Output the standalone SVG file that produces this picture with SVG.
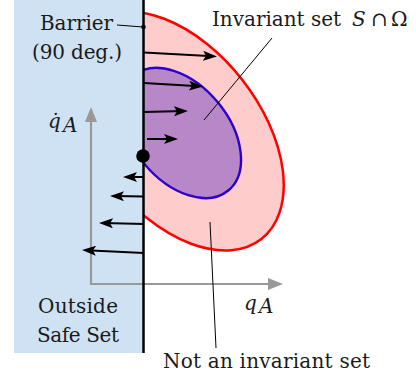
<svg xmlns="http://www.w3.org/2000/svg" width="416" height="380" viewBox="0 0 416 380">
<style>
  text { font-family: 'DejaVu Serif', 'Liberation Serif', serif; font-size: 20px; fill: #1a1a1a; }
  .m { font-style: italic; }
  .arr { stroke: #000; stroke-width: 2; fill: none; marker-end: url(#ah); }
  .lead { stroke: #000; stroke-width: 1; fill: none; }
  .axis { stroke: #999; stroke-width: 2.2; fill: none; }
</style>
<defs>
  <marker id="ah" viewBox="0 0 14 10" refX="10" refY="5" markerWidth="14" markerHeight="10" markerUnits="userSpaceOnUse" orient="auto">
    <path d="M0,0 L14,5 L0,10 L3,5 Z" fill="#000"/>
  </marker>
  <clipPath id="right"><rect x="144" y="0" width="272" height="380"/></clipPath>
</defs>
<g id="outside-region">
  <rect x="14" y="0" width="130" height="353" fill="#cfe2f3"/>
</g>
<g id="not-invariant-set" clip-path="url(#right)">
  <ellipse cx="177" cy="131" rx="137" ry="83" transform="rotate(52 177 131)" fill="#ffcccc" stroke="#ff0000" stroke-width="2.5"/>
</g>
<g id="invariant-set" clip-path="url(#right)">
  <ellipse cx="181" cy="133" rx="74.4" ry="47.9" transform="rotate(50.6 181 133)" fill="#b887c8" stroke="#2a00cc" stroke-width="2.4"/>
</g>
<g id="axes">
  <path class="axis" d="M91,122 L91,284 L268,284"/>
  <polygon points="85,122 97,122 91,107" fill="#999"/>
  <polygon points="268,278 268,290 283,284" fill="#999"/>
  <text class="m" x="48" y="128" font-size="20">q&#x307;</text>
  <text class="m" x="63" y="132" font-size="14">A</text>
  <text class="m" x="244" y="310" font-size="20">q</text>
  <text class="m" x="259" y="313" font-size="14">A</text>
</g>
<g id="connectors">
  <line class="arr" x1="144" y1="52.5" x2="213" y2="56.3"/>
  <line class="arr" x1="144" y1="83" x2="199" y2="86.3"/>
  <line class="arr" x1="144" y1="112" x2="184" y2="111.1"/>
  <line class="arr" x1="147" y1="139" x2="174" y2="139"/>
  <line class="arr" x1="144" y1="177" x2="127" y2="177"/>
  <line class="arr" x1="144" y1="196.5" x2="114" y2="196.1"/>
  <line class="arr" x1="144" y1="224" x2="103" y2="223.1"/>
  <line class="arr" x1="144" y1="253" x2="86" y2="250.2"/>
</g>
<g id="barrier">
  <line x1="143.5" y1="0" x2="143.5" y2="353" stroke="#000" stroke-width="2.5"/>
  <circle cx="143.5" cy="27" r="2.3" fill="#000"/>
  <circle cx="143" cy="156" r="6.8" fill="#000"/>
  <line class="lead" x1="117" y1="25" x2="143" y2="27"/>
  <text x="40" y="30" textLength="73">Barrier</text>
  <text x="32" y="59" textLength="90">(90 deg.)</text>
</g>
<g id="labels">
  <line class="lead" x1="272" y1="38" x2="204" y2="120"/>
  <line class="lead" x1="210" y1="222" x2="216" y2="348"/>
  <text x="212" y="26" textLength="129">Invariant set</text>
  <text class="m" x="352" y="26">S</text>
  <text x="371" y="26">∩</text>
  <text x="391" y="26">Ω</text>
  <text x="163" y="368" textLength="207">Not an invariant set</text>
  <text x="38" y="313" textLength="80">Outside</text>
  <text x="37" y="342" textLength="82">Safe Set</text>
</g>
</svg>
